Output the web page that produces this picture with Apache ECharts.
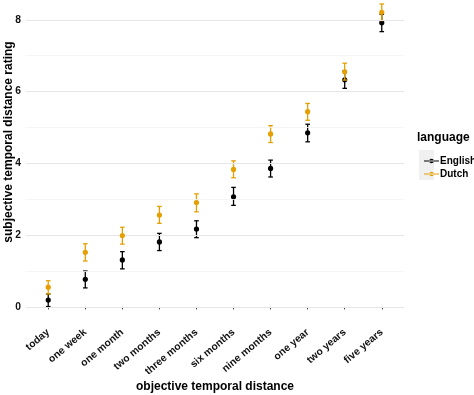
<!DOCTYPE html>
<html><head><meta charset="utf-8">
<script src="https://cdn.jsdelivr.net/npm/echarts@6/dist/echarts.min.js"></script>
<style>html,body{margin:0;padding:0;background:#fff}#c{width:474px;height:395px}</style>
</head><body><div id="c"></div>
<script>
const categories = ['today','one week','one month','two months','three months','six months','nine months','one year','two years','five years'];
const englishMean  = [0.19,0.77,1.31,1.81,2.17,3.07,3.86,4.85,6.33,7.92];
const englishLower = [0.01,0.53,1.06,1.57,1.93,2.83,3.62,4.60,6.09,7.67];
const englishUpper = [0.36,1.00,1.54,2.05,2.40,3.33,4.09,5.09,6.57,8.15];
const dutchMean  = [0.55,1.52,1.99,2.56,2.91,3.83,4.82,5.44,6.55,8.21];
const dutchLower = [0.36,1.28,1.75,2.33,2.65,3.60,4.58,5.20,6.32,7.98];
const dutchUpper = [0.73,1.76,2.22,2.80,3.15,4.07,5.05,5.67,6.79,8.44];
const yTicks = [0,2,4,6,8];
const yMinor = [1,3,5,7,9];

const FONT = 'Liberation Sans, Arial, sans-serif';
const C_EN = '#000000', C_NL = '#E69F00';
const idx = categories.map((_, i) => i);

function errSeries(name, lower, upper, color, z) {
  return {
    name, type: 'custom', z,
    data: idx.map(i => [i, lower[i], upper[i]]),
    renderItem(params, api) {
      const lo = api.coord([api.value(0), api.value(1)]);
      const hi = api.coord([api.value(0), api.value(2)]);
      const w = 2.3;
      const st = { stroke: color, lineWidth: 1.3 };
      return { type: 'group', children: [
        { type: 'line', shape: { x1: lo[0], y1: lo[1], x2: hi[0], y2: hi[1] }, style: st },
        { type: 'line', shape: { x1: lo[0]-w, y1: lo[1], x2: lo[0]+w, y2: lo[1] }, style: st },
        { type: 'line', shape: { x1: hi[0]-w, y1: hi[1], x2: hi[0]+w, y2: hi[1] }, style: st }
      ]};
    }
  };
}
const iconPath = 'path://M0,6.4L16,6.4L16,7.6L0,7.6Z M5.6,7A2.4,2.4,0,1,0,10.4,7A2.4,2.4,0,1,0,5.6,7Z';

const chart = echarts.init(document.getElementById('c'), null, { renderer: 'canvas' });
chart.setOption({
  animation: false,
  backgroundColor: '#fff',
  textStyle: { fontFamily: FONT },
  grid: { left: 26, right: 70, top: -38, bottom: 73, outerBoundsMode: 'none', containLabel: false },
  xAxis: {
    type: 'value', min: -0.6, max: 9.6,
    name: 'objective temporal distance', nameLocation: 'middle', nameGap: 59, nameMoveOverlap: false,
    nameTextStyle: { fontFamily: FONT, fontWeight: 'bold', fontSize: 12, color: '#000' },
    axisLine: { show: false },
    splitLine: { show: false },
    axisTick: { show: true, length: 2.5, customValues: idx, lineStyle: { color: '#444', width: 1 } },
    axisLabel: { customValues: idx, rotate: 40, margin: 9, fontFamily: FONT, fontWeight: 'bold', fontSize: 10.3, color: '#111',
      formatter: v => categories[Math.round(v)] }
  },
  yAxis: {
    type: 'value', min: -0.42, max: 9.61,
    name: 'subjective temporal distance rating', nameLocation: 'middle', nameGap: 11.5, nameMoveOverlap: false,
    nameTextStyle: { fontFamily: FONT, fontWeight: 'bold', fontSize: 12, color: '#000' },
    axisLine: { show: false },
    splitLine: { show: false },
    axisTick: { show: true, length: 2.5, customValues: yTicks, lineStyle: { color: '#444', width: 1 } },
    axisLabel: { customValues: yTicks, margin: 5, fontFamily: FONT, fontWeight: 'bold', fontSize: 10.3, color: '#111' }
  },
  legend: {
    orient: 'vertical', left: 419, top: 151, itemWidth: 15, itemHeight: 4.8, itemGap: 3,
    textStyle: { fontFamily: FONT, fontWeight: 'bold', fontSize: 10, color: '#000', padding: [0,0,0,-4] },
    data: [
      { name: 'English', icon: iconPath, itemStyle: { color: C_EN } },
      { name: 'Dutch', icon: iconPath, itemStyle: { color: C_NL } }
    ],
    selectedMode: false
  },
  graphic: [
    { type: 'rect', left: 419, top: 150, shape: { width: 15, height: 30 }, style: { fill: '#F0F0F0' }, z: -1 },
    { type: 'text', left: 417, top: 132, style: { text: 'language', font: 'bold 12px ' + FONT, fill: '#000' } }
  ],
  series: [
    { name: 'grid', type: 'scatter', data: [], z: 0, silent: true,
      markLine: { silent: true, symbol: ['none','none'], label: { show: false }, animation: false,
        data: [
          ...yMinor.map(v => ({ yAxis: v, lineStyle: { color: '#F3F3F3', width: 0.8, type: 'solid' } })),
          ...yTicks.map(v => ({ yAxis: v, lineStyle: { color: '#E6E6E6', width: 1.2, type: 'solid' } }))
        ] } },
    errSeries('English', englishLower, englishUpper, C_EN, 2),
    { name: 'English', type: 'scatter', z: 3, symbolSize: 5.2, itemStyle: { color: C_EN, opacity: 1 },
      data: idx.map(i => [i, englishMean[i]]) },
    errSeries('Dutch', dutchLower, dutchUpper, C_NL, 4),
    { name: 'Dutch', type: 'scatter', z: 5, symbolSize: 5.2, itemStyle: { color: C_NL, opacity: 1 },
      data: idx.map(i => [i, dutchMean[i]]) }
  ]
});
</script></body></html>
